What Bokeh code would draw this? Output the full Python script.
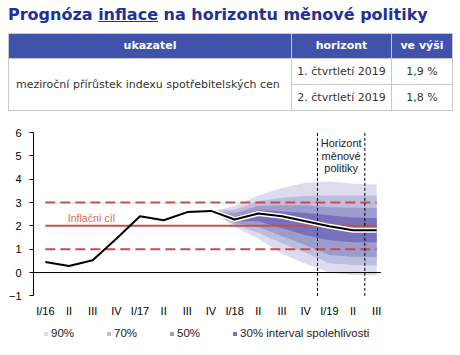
import numpy as np
from bokeh.plotting import figure
from bokeh.models import FixedTicker, Label, Legend, LegendItem, Div
from bokeh.core.properties import value
from bokeh.layouts import column
from bokeh.embed import file_html
from bokeh.resources import INLINE

# ---------------- data ----------------
title_pre = "Prognóza "
title_link = "inflace"
title_post = " na horizontu měnové politiky"

table_header = ["ukazatel", "horizont", "ve výši"]
indicator = "meziroční přírůstek indexu spotřebitelských cen"
horizons = ["1. čtvrtletí 2019", "2. čtvrtletí 2019"]
forecast_values = ["1,9 %", "1,8 %"]

quarters = ["I/16", "II", "III", "IV", "I/17", "II", "III", "IV",
            "I/18", "II", "III", "IV", "I/19", "II", "III"]
cpi = [0.45, 0.28, 0.53, 1.45, 2.41, 2.24, 2.59, 2.64,
       2.27, 2.53, 2.41, 2.20, 1.98, 1.81, 1.81]

fan_start = 7  # IV/17
lo90 = [2.64, 1.95, 1.45, 0.80, 0.38, 0.00, -0.10, -0.12]
hi90 = [2.64, 2.85, 3.30, 3.62, 3.85, 3.90, 3.80, 3.77]
lo70 = [2.64, 2.05, 1.70, 1.25, 0.85, 0.40, 0.32, 0.30]
hi70 = [2.64, 2.70, 3.05, 3.20, 3.28, 3.30, 3.30, 3.30]
lo50 = [2.64, 2.12, 1.95, 1.55, 1.17, 0.75, 0.68, 0.67]
hi50 = [2.64, 2.55, 2.85, 2.88, 2.88, 2.80, 2.78, 2.77]
lo30 = [2.64, 2.20, 2.20, 1.90, 1.60, 1.38, 1.30, 1.30]
hi30 = [2.64, 2.40, 2.67, 2.62, 2.55, 2.45, 2.36, 2.34]

band_labels = ["90%", "70%", "50%", "30% interval spolehlivosti"]
band_colors = ["#dcdcee", "#bdbddd", "#9d9dcd", "#7870ba"]

target = 2.0
tol_lo, tol_hi = 1.0, 3.0
target_label = "Inflační cíl"
horizon_first, horizon_last = 12, 13   # I/19 .. II/19
horizon_text = ["Horizont", "měnové", "politiky"]

y_ticks = [-1, 0, 1, 2, 3, 4, 5, 6]

FONT = "Liberation Sans"
RED = "#c0504d"

# ---------------- header (title + table) ----------------
th = ("background:#4152ab;color:white;font-weight:bold;text-align:center;"
      "border:1px solid #c8c8c8;padding:0;height:25px;")
td = "border:1px solid #c8c8c8;padding:0;height:26px;color:#333;"
html = f"""
<div style="position:relative;width:460px;height:115px;font-family:'DejaVu Sans';">
 <div style="position:absolute;left:8px;top:5px;font-size:16px;line-height:20px;font-weight:bold;color:#22309a;white-space:nowrap;">{title_pre}<u>{title_link}</u>{title_post}</div>
 <table style="position:absolute;left:8px;top:33px;width:445px;border-collapse:collapse;font-size:11px;">
  <tr>
   <td style="{th}width:283px;">{table_header[0]}</td>
   <td style="{th}width:100px;">{table_header[1]}</td>
   <td style="{th}">{table_header[2]}</td>
  </tr>
  <tr>
   <td rowspan="2" style="{td}padding-left:7px;text-align:left;">{indicator}</td>
   <td style="{td}text-align:center;">{horizons[0]}</td>
   <td style="{td}text-align:center;">{forecast_values[0]}</td>
  </tr>
  <tr>
   <td style="{td}text-align:center;">{horizons[1]}</td>
   <td style="{td}text-align:center;">{forecast_values[1]}</td>
  </tr>
 </table>
</div>
"""
header = Div(text=html, width=460, height=115, margin=0)

# ---------------- chart ----------------
x = np.arange(len(quarters))
xf = x[fan_start:]
y_min, y_max = min(y_ticks), max(y_ticks)

# frame extends below y=-1 so that category labels and legend live inside it
p = figure(width=460, height=240, x_range=(-0.5, len(quarters) - 0.5), y_range=(-3.34, y_max),
           output_backend="svg", toolbar_location=None,
           min_border_left=33, min_border_right=72, min_border_top=17, min_border_bottom=5)
p.outline_line_color = None
p.xgrid.visible = False
p.ygrid.visible = False
p.background_fill_color = "white"
p.xaxis.visible = False

# fan bands
bands = [(lo90, hi90), (lo70, hi70), (lo50, hi50), (lo30, hi30)]
band_renderers = []
for (lo, hi), col in zip(bands, band_colors):
    r = p.varea(x=xf, y1=lo, y2=hi, fill_color=col)
    band_renderers.append(r)

# target lines
p.line([x[0], x[-1]], [target, target], line_color=RED, line_width=2)
for lvl in (tol_lo, tol_hi):
    p.line([x[0], x[-1]], [lvl, lvl], line_color=RED, line_width=2, line_dash="10 5")

# zero line
p.line([-0.5, x[-1] + 0.18], [0, 0], line_color="black", line_width=1)

# horizon dashed verticals
hb = [horizon_first - 0.5, horizon_last + 0.5]
p.segment(x0=hb, y0=[y_min] * 2, x1=hb, y1=[y_max] * 2, line_color="black",
          line_width=1, line_dash="3 2")

# inflation line
p.line(xf, cpi[fan_start:], line_color="white", line_width=5)
p.line(x, cpi, line_color="black", line_width=2)

# labels
p.add_layout(Label(x=0.95, y=2.33, text=target_label, text_font=FONT,
                   text_font_size="10.5px", text_color="#e0665a",
                   text_baseline="middle", text_align="left"))
hx = (horizon_first + horizon_last) / 2
for i, t in enumerate(horizon_text):
    p.add_layout(Label(x=hx, y=5.54 - i * 0.54, text=t, text_font=FONT,
                       text_font_size="11px", text_color="#222222",
                       text_baseline="middle", text_align="center"))

# category labels under the y=-1 level
p.text(x=x, y=[y_min] * len(x), text=quarters, text_font=value(FONT),
       text_font_size="11px", text_color="black", text_align="center",
       text_baseline="top", y_offset=9)

# y axis
p.yaxis.ticker = FixedTicker(ticks=y_ticks)
p.yaxis.bounds = (y_min, y_max)
p.yaxis.minor_tick_line_color = None
p.yaxis.major_tick_in = 0
p.yaxis.major_tick_out = 4
p.yaxis.axis_line_color = "black"
p.yaxis.major_tick_line_color = "black"
p.yaxis.major_label_standoff = 8
p.yaxis.major_label_text_font = FONT
p.yaxis.major_label_text_font_size = "11px"
p.yaxis.major_label_text_color = "black"

legend = Legend(items=[LegendItem(label=l, renderers=[r]) for l, r in zip(band_labels, band_renderers)],
                orientation="horizontal", location=(10, 11),
                glyph_width=5, glyph_height=5, label_standoff=3, spacing=32,
                label_height=12, label_width=10,
                margin=0, padding=0, border_line_color=None, background_fill_alpha=0,
                label_text_font=FONT, label_text_font_size="11.5px", label_text_color="#222222")
p.add_layout(legend, "center")

layout = column(header, p, spacing=0)
open("out.html", "w").write(file_html(layout, INLINE))
